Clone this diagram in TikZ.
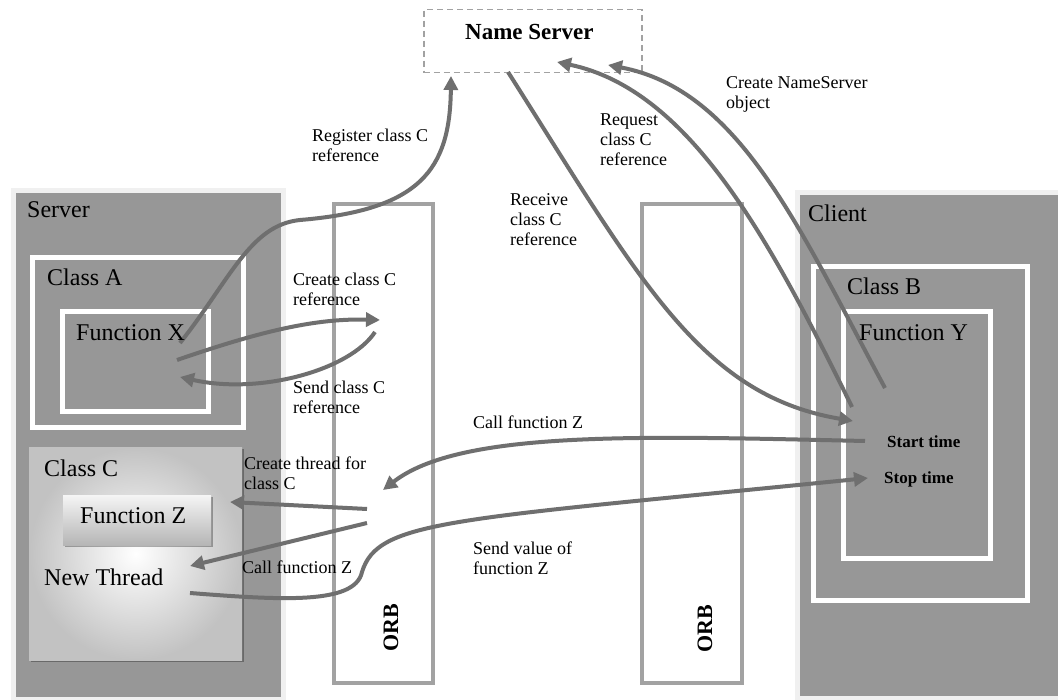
\documentclass[tikz,border=0pt]{standalone}
\usepackage{fontspec}
\setmainfont{Liberation Serif}
\usetikzlibrary{arrows.meta,shadows}
\definecolor{fillg}{RGB}{151,151,151}
\definecolor{arrg}{RGB}{111,111,111}
\definecolor{orbg}{RGB}{162,162,162}
\definecolor{lightb}{RGB}{240,240,240}
\begin{document}
\begin{tikzpicture}[x=1pt,y=-1pt,
  shd/.style={drop shadow={shadow xshift=2pt,shadow yshift=-2pt,fill=black,opacity=0.3}},
  outerbox/.style={draw=lightb,line width=5pt,fill=fillg,inner sep=0pt,anchor=north west,shd},
  whitebox/.style={draw=white,line width=5pt,fill=fillg,inner sep=0pt,anchor=north west,shd},
  gradbox/.style={inner sep=0pt,anchor=north west,shd},
  orbbox/.style={draw=orbg,line width=4pt,fill=white,inner sep=0pt,anchor=north west},
  nsbox/.style={draw=orbg,line width=1.5pt,dash pattern=on 6pt off 4pt,inner sep=0pt,anchor=north west},
  boxlabel/.style={inner sep=0pt,anchor=base west,font=\fontsize{24}{28}\selectfont},
  lbl/.style={inner sep=0pt,anchor=north west,align=left,font=\fontsize{18}{20}\selectfont},
  timelbl/.style={inner sep=0pt,anchor=base west,font=\fontsize{17}{20}\selectfont\bfseries},
  orbtxt/.style={inner sep=0pt,rotate=90,anchor=base,font=\fontsize{22}{26}\selectfont\bfseries},
  arr/.style={draw=arrg,line width=4pt,-{Triangle[length=14pt,width=14pt]}}
]
\clip (0,0) rectangle (1058,700);
\fill[white] (0,0) rectangle (1058,700);

% containers
\node[outerbox,minimum width=270pt,minimum height=509pt] (server) at (10.5,188) {};
\node[outerbox,minimum width=300pt,minimum height=505pt] (client) at (794.5,190.5) {};
\node[whitebox,minimum width=211pt,minimum height=170pt] (classA) at (29.5,255.5) {};
\node[whitebox,minimum width=146pt,minimum height=100pt] (funcX) at (59.5,309.5) {};
\node[whitebox,minimum width=214pt,minimum height=333pt] (classB) at (810.5,264.5) {};
\node[whitebox,minimum width=147pt,minimum height=246pt] (funcY) at (840.5,309.5) {};
\node[gradbox,minimum width=213pt,minimum height=213pt,inner color=white,outer color=gray!48] (classC) at (29,447) {};
\node[gradbox,minimum width=148pt,minimum height=50pt,top color=white!92!gray,bottom color=gray!58] (funcZ) at (63,495) {};
\node[orbbox,minimum width=99pt,minimum height=479pt] (orbL) at (332,202) {};
\node[orbbox,minimum width=100pt,minimum height=479pt] (orbR) at (640,202) {};
\node[nsbox,minimum width=218pt,minimum height=63pt] (ns) at (423,9) {};

% connector end points
\coordinate (regS) at (180,343);  \coordinate (regE) at (451,76);
\coordinate (crS) at (177,360);   \coordinate (crE) at (380,320);
\coordinate (sdS) at (375,332);   \coordinate (sdE) at (180,377);
\coordinate (rcS) at (508,72);    \coordinate (rcE) at (853,421);
\coordinate (rqS) at (852,407);   \coordinate (rqE) at (557,62);
\coordinate (cnS) at (885,388);   \coordinate (cnE) at (608,65);
\coordinate (czS) at (865,441);   \coordinate (czE) at (383,490);
\coordinate (svS) at (190,593);   \coordinate (svE) at (868,478);
\coordinate (ctS) at (367,509);   \coordinate (ctE) at (230,502);
\coordinate (clS) at (367,523);   \coordinate (clE) at (190,566);

% connectors
\draw[arr] (regS) .. controls (230,280) and (250,225) .. (300,220) .. controls (420,210) and (450,170) .. (regE);
\draw[arr] (crS) .. controls (250,335) and (310,318) .. (crE);
\draw[arr] (sdS) .. controls (350,370) and (260,395) .. (sdE);
\draw[arr] (rcS) .. controls (640,280) and (700,395) .. (rcE);
\draw[arr] (rqS) .. controls (770,240) and (690,90) .. (rqE);
\draw[arr] (cnS) .. controls (800,230) and (740,90) .. (cnE);
\draw[arr] (czS) .. controls (640,436) and (460,430) .. (czE);
\draw[arr] (svS) .. controls (280,600) and (355,605) .. (362,572) .. controls (378,520) and (450,520) .. (svE);
\draw[arr] (ctS) -- (ctE);
\draw[arr] (clS) -- (clE);

% box labels
\node[boxlabel] (tServer) at (27,218) {Server};
\node[boxlabel] (tClassA) at (47,286) {Class A};
\node[boxlabel] (tFuncX) at (76,341) {Function X};
\node[boxlabel] (tClassC) at (44,476) {Class C};
\node[boxlabel] (tFuncZ) at (80,523) {Function Z};
\node[boxlabel] (tThread) at (44,585) {New Thread};
\node[boxlabel] (tClient) at (808,222) {Client};
\node[boxlabel] (tClassB) at (847,295) {Class B};
\node[boxlabel] (tFuncY) at (859,341) {Function Y};
\node[timelbl] (tStart) at (887,448) {Start time};
\node[timelbl] (tStop) at (884,484) {Stop time};
\node[inner sep=0pt,anchor=base west,font=\fontsize{23}{27}\selectfont\bfseries] (tNS) at (465,40) {Name Server};
\node[orbtxt] (tOrbL) at (398,628) {ORB};
\node[orbtxt] (tOrbR) at (712,629) {ORB};

% connector labels
\node[lbl] (lReg) at (312,129) {Register class C\\reference};
\node[lbl] (lCr) at (293,273) {Create class C\\reference};
\node[lbl] (lSd) at (293,381) {Send class C\\reference};
\node[lbl] (lCt) at (244,457) {Create thread for\\class C};
\node[lbl] (lCl) at (242,561) {Call function Z};
\node[lbl] (lRc) at (510,193) {Receive\\class C\\reference};
\node[lbl] (lRq) at (600,114) {Request\\class C\\reference};
\node[lbl] (lCn) at (726,76) {Create NameServer\\object};
\node[lbl] (lCz) at (473,416) {Call function Z};
\node[lbl] (lSv) at (473,542) {Send value of\\function Z};
\end{tikzpicture}
\end{document}
